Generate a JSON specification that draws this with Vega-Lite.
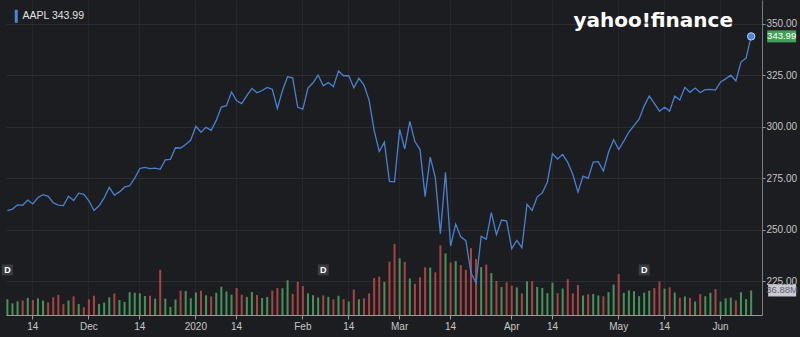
{
  "$schema": "https://vega.github.io/schema/vega-lite/v6.json",
  "width": 756,
  "height": 315,
  "autosize": {"type": "none"},
  "padding": {"left": 6, "top": 0, "right": 38, "bottom": 22},
  "background": "#1c1d20",
  "config": {"view": {"stroke": null}, "font": "Liberation Sans"},
  "title": {"text": "yahoo!finance", "anchor": "end", "orient": "top", "frame": "group", "offset": -27, "dy": 20, "baseline": "alphabetic", "dx": -29, "font": "DejaVu Sans", "fontWeight": "bold", "fontSize": 20, "color": "#ffffff"},
  "datasets": {
    "aapl": [
      {"date":"2019-11-07","close":259.43,"volume":23700000},
      {"date":"2019-11-08","close":260.14,"volume":17500000},
      {"date":"2019-11-11","close":262.20,"volume":20500000},
      {"date":"2019-11-12","close":261.96,"volume":21800000},
      {"date":"2019-11-13","close":264.47,"volume":25800000},
      {"date":"2019-11-14","close":262.64,"volume":22400000},
      {"date":"2019-11-15","close":265.76,"volume":25100000},
      {"date":"2019-11-18","close":267.10,"volume":21600000},
      {"date":"2019-11-19","close":266.29,"volume":19000000},
      {"date":"2019-11-20","close":263.19,"volume":26600000},
      {"date":"2019-11-21","close":262.01,"volume":30300000},
      {"date":"2019-11-22","close":261.78,"volume":16300000},
      {"date":"2019-11-25","close":266.37,"volume":21900000},
      {"date":"2019-11-26","close":264.29,"volume":28000000},
      {"date":"2019-11-27","close":267.84,"volume":16400000},
      {"date":"2019-11-29","close":267.25,"volume":11700000},
      {"date":"2019-12-02","close":264.16,"volume":23600000},
      {"date":"2019-12-03","close":259.45,"volume":29000000},
      {"date":"2019-12-04","close":261.74,"volume":16700000},
      {"date":"2019-12-05","close":265.58,"volume":18600000},
      {"date":"2019-12-06","close":270.71,"volume":26500000},
      {"date":"2019-12-09","close":266.92,"volume":32200000},
      {"date":"2019-12-10","close":268.48,"volume":22600000},
      {"date":"2019-12-11","close":270.77,"volume":19700000},
      {"date":"2019-12-12","close":271.46,"volume":34300000},
      {"date":"2019-12-13","close":275.15,"volume":33400000},
      {"date":"2019-12-16","close":279.86,"volume":32700000},
      {"date":"2019-12-17","close":280.41,"volume":28500000},
      {"date":"2019-12-18","close":279.74,"volume":29000000},
      {"date":"2019-12-19","close":280.02,"volume":24600000},
      {"date":"2019-12-20","close":279.44,"volume":68000000},
      {"date":"2019-12-23","close":284.00,"volume":24600000},
      {"date":"2019-12-24","close":284.27,"volume":12100000},
      {"date":"2019-12-26","close":289.91,"volume":23300000},
      {"date":"2019-12-27","close":289.80,"volume":36600000},
      {"date":"2019-12-30","close":291.52,"volume":36000000},
      {"date":"2019-12-31","close":293.65,"volume":25200000},
      {"date":"2020-01-02","close":300.35,"volume":33900000},
      {"date":"2020-01-03","close":297.43,"volume":36600000},
      {"date":"2020-01-06","close":299.80,"volume":29600000},
      {"date":"2020-01-07","close":298.39,"volume":27900000},
      {"date":"2020-01-08","close":303.19,"volume":33500000},
      {"date":"2020-01-09","close":309.63,"volume":42600000},
      {"date":"2020-01-10","close":310.33,"volume":35200000},
      {"date":"2020-01-13","close":316.96,"volume":30500000},
      {"date":"2020-01-14","close":312.68,"volume":40600000},
      {"date":"2020-01-15","close":311.34,"volume":30500000},
      {"date":"2020-01-16","close":315.24,"volume":27200000},
      {"date":"2020-01-17","close":318.73,"volume":34500000},
      {"date":"2020-01-21","close":316.57,"volume":30100000},
      {"date":"2020-01-22","close":317.70,"volume":25500000},
      {"date":"2020-01-23","close":319.23,"volume":27200000},
      {"date":"2020-01-24","close":318.31,"volume":36700000},
      {"date":"2020-01-27","close":308.95,"volume":40500000},
      {"date":"2020-01-28","close":317.69,"volume":40100000},
      {"date":"2020-01-29","close":324.34,"volume":52200000},
      {"date":"2020-01-30","close":323.87,"volume":31700000},
      {"date":"2020-01-31","close":309.51,"volume":49900000},
      {"date":"2020-02-03","close":308.66,"volume":43500000},
      {"date":"2020-02-04","close":318.85,"volume":32500000},
      {"date":"2020-02-05","close":321.45,"volume":29700000},
      {"date":"2020-02-06","close":325.21,"volume":26400000},
      {"date":"2020-02-07","close":320.03,"volume":29400000},
      {"date":"2020-02-10","close":321.55,"volume":27300000},
      {"date":"2020-02-11","close":319.61,"volume":23600000},
      {"date":"2020-02-12","close":327.20,"volume":29000000},
      {"date":"2020-02-13","close":324.87,"volume":23700000},
      {"date":"2020-02-14","close":324.95,"volume":20200000},
      {"date":"2020-02-18","close":319.00,"volume":38200000},
      {"date":"2020-02-19","close":323.62,"volume":23600000},
      {"date":"2020-02-20","close":320.30,"volume":25100000},
      {"date":"2020-02-21","close":313.05,"volume":32400000},
      {"date":"2020-02-24","close":298.18,"volume":55500000},
      {"date":"2020-02-25","close":288.08,"volume":57700000},
      {"date":"2020-02-26","close":292.65,"volume":49700000},
      {"date":"2020-02-27","close":273.52,"volume":80200000},
      {"date":"2020-02-28","close":273.36,"volume":106700000},
      {"date":"2020-03-02","close":298.81,"volume":85300000},
      {"date":"2020-03-03","close":289.32,"volume":79900000},
      {"date":"2020-03-04","close":302.74,"volume":54800000},
      {"date":"2020-03-05","close":292.92,"volume":46900000},
      {"date":"2020-03-06","close":289.03,"volume":56500000},
      {"date":"2020-03-09","close":266.17,"volume":71700000},
      {"date":"2020-03-10","close":285.34,"volume":71300000},
      {"date":"2020-03-11","close":275.43,"volume":64100000},
      {"date":"2020-03-12","close":248.23,"volume":104600000},
      {"date":"2020-03-13","close":277.97,"volume":92700000},
      {"date":"2020-03-16","close":242.21,"volume":79000000},
      {"date":"2020-03-17","close":252.86,"volume":81000000},
      {"date":"2020-03-18","close":246.67,"volume":75100000},
      {"date":"2020-03-19","close":244.78,"volume":67900000},
      {"date":"2020-03-20","close":229.24,"volume":100400000},
      {"date":"2020-03-23","close":224.37,"volume":84200000},
      {"date":"2020-03-24","close":246.88,"volume":71900000},
      {"date":"2020-03-25","close":245.52,"volume":75900000},
      {"date":"2020-03-26","close":258.44,"volume":63000000},
      {"date":"2020-03-27","close":247.74,"volume":51100000},
      {"date":"2020-03-30","close":254.81,"volume":42000000},
      {"date":"2020-03-31","close":254.29,"volume":49200000},
      {"date":"2020-04-01","close":240.91,"volume":44100000},
      {"date":"2020-04-02","close":244.93,"volume":41500000},
      {"date":"2020-04-03","close":241.41,"volume":32500000},
      {"date":"2020-04-06","close":262.47,"volume":50500000},
      {"date":"2020-04-07","close":259.43,"volume":50700000},
      {"date":"2020-04-08","close":266.07,"volume":42200000},
      {"date":"2020-04-09","close":267.99,"volume":40500000},
      {"date":"2020-04-13","close":273.25,"volume":32800000},
      {"date":"2020-04-14","close":287.05,"volume":48700000},
      {"date":"2020-04-15","close":284.43,"volume":32800000},
      {"date":"2020-04-16","close":286.69,"volume":39700000},
      {"date":"2020-04-17","close":282.80,"volume":53800000},
      {"date":"2020-04-20","close":276.93,"volume":32500000},
      {"date":"2020-04-21","close":268.37,"volume":45200000},
      {"date":"2020-04-22","close":276.10,"volume":29300000},
      {"date":"2020-04-23","close":275.03,"volume":31200000},
      {"date":"2020-04-24","close":282.97,"volume":31600000},
      {"date":"2020-04-27","close":283.17,"volume":29300000},
      {"date":"2020-04-28","close":278.58,"volume":28000000},
      {"date":"2020-04-29","close":287.73,"volume":34300000},
      {"date":"2020-04-30","close":293.80,"volume":45800000},
      {"date":"2020-05-01","close":289.07,"volume":61500000},
      {"date":"2020-05-04","close":293.16,"volume":33400000},
      {"date":"2020-05-05","close":297.56,"volume":36900000},
      {"date":"2020-05-06","close":300.63,"volume":35800000},
      {"date":"2020-05-07","close":303.74,"volume":28300000},
      {"date":"2020-05-08","close":310.13,"volume":33500000},
      {"date":"2020-05-11","close":315.01,"volume":36500000},
      {"date":"2020-05-12","close":311.41,"volume":40600000},
      {"date":"2020-05-13","close":307.65,"volume":50200000},
      {"date":"2020-05-14","close":309.54,"volume":39700000},
      {"date":"2020-05-15","close":307.71,"volume":41600000},
      {"date":"2020-05-18","close":314.96,"volume":33800000},
      {"date":"2020-05-19","close":313.14,"volume":26000000},
      {"date":"2020-05-20","close":319.23,"volume":27900000},
      {"date":"2020-05-21","close":316.85,"volume":25700000},
      {"date":"2020-05-22","close":318.89,"volume":20400000},
      {"date":"2020-05-26","close":316.73,"volume":31400000},
      {"date":"2020-05-27","close":318.11,"volume":28200000},
      {"date":"2020-05-28","close":318.25,"volume":33400000},
      {"date":"2020-05-29","close":317.94,"volume":38900000},
      {"date":"2020-06-01","close":321.85,"volume":20200000},
      {"date":"2020-06-02","close":323.34,"volume":25000000},
      {"date":"2020-06-03","close":325.12,"volume":26100000},
      {"date":"2020-06-04","close":322.32,"volume":21900000},
      {"date":"2020-06-05","close":331.50,"volume":34300000},
      {"date":"2020-06-08","close":333.46,"volume":23900000},
      {"date":"2020-06-09","close":343.99,"volume":36880000}
    ],
    "div": [
      {"date":"2019-11-07","dividend":0.77},
      {"date":"2020-02-07","dividend":0.77},
      {"date":"2020-05-08","dividend":0.82}
    ]
  },
  "resolve": {"scale": {"y": "independent"}},
  "layer": [
    {
      "data": {"name": "aapl"},
      "transform": [{"window": [{"op": "lag", "field": "close", "as": "prev"}], "sort": [{"field": "date", "order": "ascending"}]}],
      "layer": [
        {
          "mark": {"type": "bar"},
          "encoding": {
            "x": {"field": "date", "type": "ordinal",
              "scale": {"paddingInner": 0.6, "paddingOuter": 1.355, "align": 0.0353, "round": false},
              "axis": {"orient": "bottom", "title": null, "labelAngle": 0, "bandPosition": 0.5,
                "values": ["2019-11-14","2019-12-02","2019-12-16","2020-01-02","2020-01-14","2020-02-03","2020-02-14","2020-03-02","2020-03-16","2020-04-01","2020-04-14","2020-05-01","2020-05-14","2020-06-01"],
                "labelExpr": "indexof(['2019-12-02','2020-01-02','2020-02-03','2020-03-02','2020-04-01','2020-05-01','2020-06-01'], datum.value) < 0 ? '14' : ['Dec','2020','Feb','Mar','Apr','May','Jun'][indexof(['2019-12-02','2020-01-02','2020-02-03','2020-03-02','2020-04-01','2020-05-01','2020-06-01'], datum.value)]",
                "grid": true, "gridColor": "#26272b", "domainColor": "#9a9a9a", "tickColor": "#9a9a9a", "tickSize": 4,
                "labelColor": "#c8c8c8", "labelFontSize": 10, "labelPadding": 2}},
            "y": {"field": "volume", "type": "quantitative", "scale": {"domain": [0, 473700000], "nice": false, "zero": true}, "axis": null},
            "color": {"condition": {"test": "datum.prev == null || datum.close >= datum.prev", "value": "#4b9a5e"}, "value": "#b04848"},
            "opacity": {"value": 0.92}
          }
        },
        {
          "transform": [{"filter": "datum.date == '2020-06-09'"}],
          "mark": {"type": "point", "shape": "M17,-6H45V6H17Z", "size": 4, "filled": true, "fill": "#c9c9d3", "strokeWidth": 0, "opacity": 1},
          "encoding": {
            "x": {"field": "date", "type": "ordinal", "bandPosition": 0.5},
            "y": {"field": "volume", "type": "quantitative"}
          }
        },
        {
          "transform": [{"filter": "datum.date == '2020-06-09'"}],
          "mark": {"type": "text", "dx": 31, "align": "center", "baseline": "middle", "fontSize": 9.5, "color": "#5f6070"},
          "encoding": {
            "x": {"field": "date", "type": "ordinal", "bandPosition": 0.5},
            "y": {"field": "volume", "type": "quantitative"},
            "text": {"field": "volume", "type": "quantitative", "format": ".4s"}
          }
        }
      ]
    },
    {
      "layer": [
        {
          "data": {"name": "aapl"},
          "mark": {"type": "line", "strokeWidth": 1.3, "color": "#4a80d0"},
          "encoding": {
            "x": {"field": "date", "type": "ordinal", "bandPosition": 0.5},
            "y": {"field": "close", "type": "quantitative",
              "scale": {"domain": [208.7, 361.65], "nice": false, "zero": false},
              "axis": {"orient": "right", "title": null, "values": [225, 250, 275, 300, 325, 350], "format": ".2f",
                "grid": true, "gridColor": "#2c2d31", "domainColor": "#7c7c7c", "tickColor": "#9a9a9a", "tickSize": 3,
                "labelColor": "#c4c4c4", "labelFontSize": 10, "labelPadding": 1}}
          }
        },
        {
          "data": {"name": "aapl"},
          "transform": [{"filter": "datum.date == '2020-06-09'"}],
          "mark": {"type": "circle", "size": 55, "stroke": "#bcd1f5", "strokeWidth": 1, "opacity": 1},
          "encoding": {
            "x": {"field": "date", "type": "ordinal", "bandPosition": 0.5},
            "y": {"field": "close", "type": "quantitative"},
            "fill": {"datum": "AAPL 343.99", "scale": {"range": ["#4a84dc"]},
              "legend": {"orient": "none", "legendX": 5, "legendY": 11, "title": null, "padding": 0,
                "symbolType": "M-1.5,-6.5H1.5V6.5H-1.5Z", "symbolSize": 4, "symbolStrokeWidth": 0,
                "labelColor": "#e2e2e2", "labelFontSize": 10.5, "labelOffset": 1, "labelFont": "Liberation Sans"}}
          }
        },
        {
          "data": {"name": "aapl"},
          "transform": [{"filter": "datum.date == '2020-06-09'"}],
          "mark": {"type": "point", "shape": "M16,-6H45V6H16Z", "size": 4, "filled": true, "fill": "#43a057", "strokeWidth": 0, "opacity": 1},
          "encoding": {
            "x": {"field": "date", "type": "ordinal", "bandPosition": 0.5},
            "y": {"field": "close", "type": "quantitative"}
          }
        },
        {
          "data": {"name": "aapl"},
          "transform": [{"filter": "datum.date == '2020-06-09'"}],
          "mark": {"type": "text", "dx": 30.5, "align": "center", "baseline": "middle", "fontSize": 9.5, "color": "#ffffff"},
          "encoding": {
            "x": {"field": "date", "type": "ordinal", "bandPosition": 0.5},
            "y": {"field": "close", "type": "quantitative"},
            "text": {"field": "close", "type": "quantitative", "format": ".2f"}
          }
        },
        {
          "data": {"name": "div"},
          "mark": {"type": "point", "shape": "square", "size": 120, "filled": true, "fill": "#3b3c40", "strokeWidth": 0, "opacity": 1},
          "encoding": {
            "x": {"field": "date", "type": "ordinal", "bandPosition": 0.5},
            "y": {"datum": 230.6, "type": "quantitative"}
          }
        },
        {
          "data": {"name": "div"},
          "mark": {"type": "text", "text": "D", "align": "center", "baseline": "middle", "fontSize": 9, "fontWeight": "bold", "color": "#ffffff"},
          "encoding": {
            "x": {"field": "date", "type": "ordinal", "bandPosition": 0.5},
            "y": {"datum": 230.6, "type": "quantitative"}
          }
        }
      ]
    }
  ]
}
